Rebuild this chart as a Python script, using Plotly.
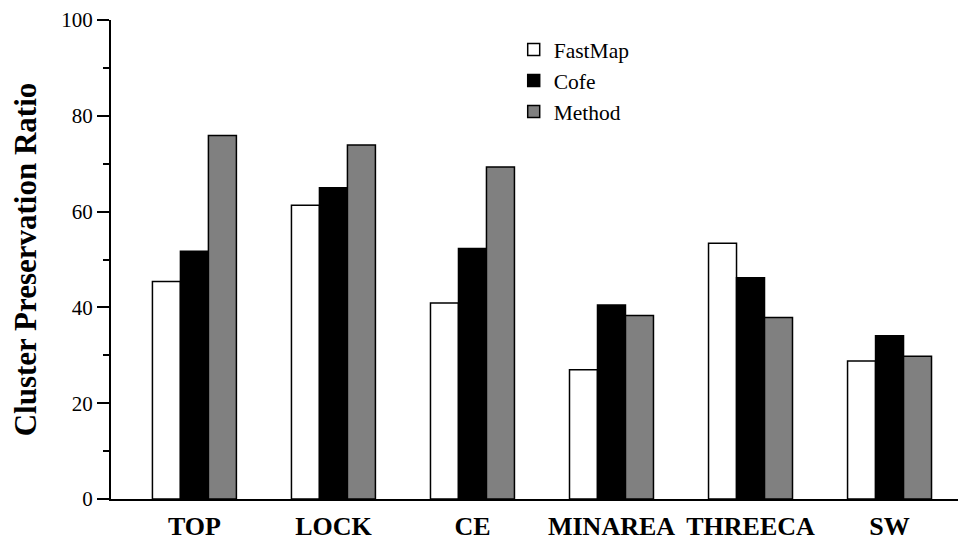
import plotly.graph_objects as go

categories = ["TOP", "LOCK", "CE", "MINAREA", "THREECA", "SW"]
fastmap = [45.4, 61.3, 40.9, 27.0, 53.4, 28.8]
cofe = [51.7, 65.0, 52.3, 40.5, 46.2, 34.1]
method = [75.9, 73.9, 69.3, 38.3, 37.9, 29.8]
series_names = ["FastMap", "Cofe", "Method"]
series_colors = ["#ffffff", "#000000", "#808080"]
y_ticks = [0, 20, 40, 60, 80, 100]

serif = "Liberation Serif"

fig = go.Figure()
for name, vals, col in zip(series_names, [fastmap, cofe, method], series_colors):
    fig.add_trace(go.Bar(
        x=categories, y=vals, name=name,
        marker=dict(color=col, line=dict(color="#000000", width=1.5)),
    ))

fig.update_layout(
    width=958, height=532,
    margin=dict(l=103, r=0, t=12, b=41, autoexpand=False),
    paper_bgcolor="white", plot_bgcolor="white",
    barmode="group", bargap=0.396, bargroupgap=0,
    font=dict(family=serif, color="black"),
    showlegend=True,
    legend=dict(
        x=0.471, y=0.981, xanchor="left", yanchor="top",
        font=dict(family=serif, size=21.5, color="black"),
        bgcolor="rgba(0,0,0,0)", tracegroupgap=0,
    ),
)

fig.update_xaxes(
    range=[-0.6, 5.55],
    showline=True, linecolor="black", linewidth=2,
    ticks="", showgrid=False, zeroline=False,
    tickfont=dict(family=serif, size=26, color="black", weight="bold"),
    ticklabelstandoff=3,
)
fig.update_yaxes(
    range=[0, 100],
    tickmode="array", tickvals=y_ticks, ticktext=[str(v) for v in y_ticks],
    showline=True, linecolor="black", linewidth=2,
    ticks="outside", ticklen=12, tickwidth=2, tickcolor="black",
    minor=dict(dtick=10, ticks="outside", ticklen=6, tickwidth=2, tickcolor="black", showgrid=False),
    showgrid=False, zeroline=False,
    tickfont=dict(family=serif, size=21, color="black"),
    title=dict(text="Cluster Preservation Ratio",
               font=dict(family=serif, size=31, color="black", weight="bold"),
               standoff=24),
)

fig.write_html("out.html")
